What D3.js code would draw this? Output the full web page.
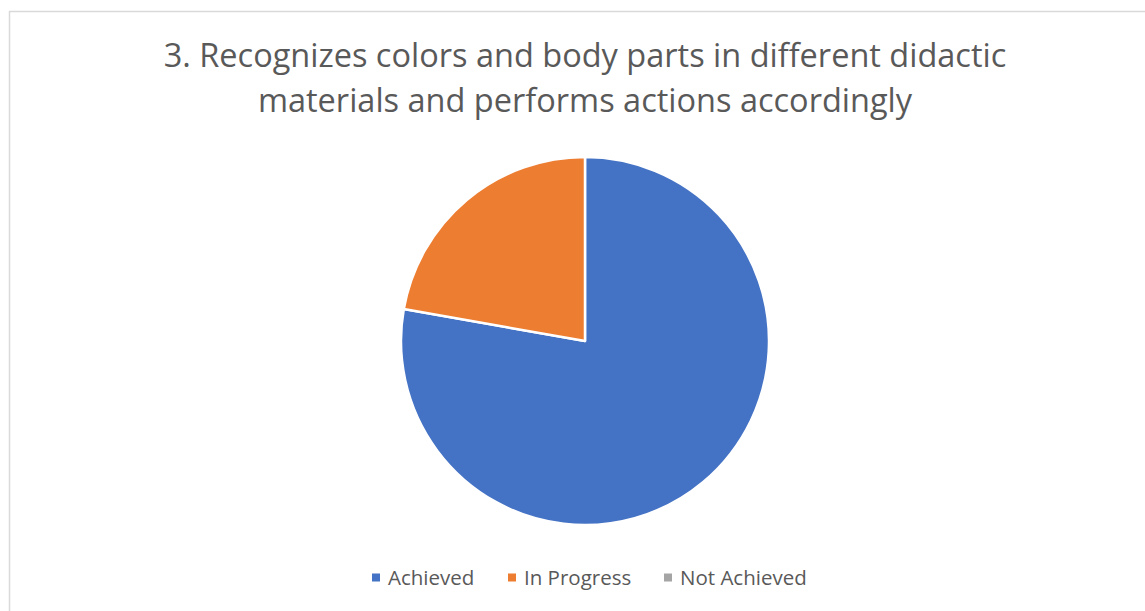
<!DOCTYPE html>
<html>
<head>
<meta charset="utf-8">
<script src="https://cdn.jsdelivr.net/npm/d3@7"></script>
<style>
  html, body { margin: 0; padding: 0; background: #fff; }
  svg { display: block; }
</style>
</head>
<body>
<svg id="chart" width="1145" height="611"></svg>
<script>
// Survey result for item 3
const titleLines = [
  "3. Recognizes colors and body parts in different didactic",
  "materials and performs actions accordingly"
];
const categories = ["Achieved", "In Progress", "Not Achieved"];
const counts = [7, 2, 0];
const colors = ["#4472C4", "#ED7D31", "#A5A5A5"];

const W = 1145, H = 611;
const svg = d3.select("#chart");
const font = "'Open Sans', 'Liberation Sans', sans-serif";

// chart area frame
svg.append("rect")
  .attr("x", 9.5).attr("y", 11.5)
  .attr("width", W + 20).attr("height", H + 20)
  .attr("fill", "#fff")
  .attr("stroke", "#d9d9d9").attr("stroke-width", 1.5);

// title
const title = svg.append("g");
titleLines.forEach((t, i) => {
  title.append("text")
    .attr("x", 585).attr("y", 67 + i * 45)
    .attr("text-anchor", "middle")
    .attr("font-family", font)
    .attr("font-size", 32.5)
    .attr("fill", "#595959")
    .text(t);
});

// pie
const cx = 585, cy = 341, r = 184;
const data = categories.map((c, i) => ({ name: c, value: counts[i], color: colors[i] }));
const pie = d3.pie().value(d => d.value).sort(null);
const arc = d3.arc().innerRadius(0).outerRadius(r);

svg.append("g")
  .attr("transform", `translate(${cx},${cy})`)
  .selectAll("path")
  .data(pie(data).filter(d => d.data.value > 0))
  .join("path")
  .attr("d", arc)
  .attr("fill", d => d.data.color)
  .attr("stroke", "#fff")
  .attr("stroke-width", 2.5)
  .attr("stroke-linejoin", "round");

// legend
const legendX = [372, 508, 664];
const legend = svg.append("g");
data.forEach((d, i) => {
  const g = legend.append("g").attr("transform", `translate(${legendX[i]},578)`);
  g.append("rect")
    .attr("x", 0).attr("y", -4.5)
    .attr("width", 8).attr("height", 8)
    .attr("fill", d.color);
  g.append("text")
    .attr("x", 16).attr("y", 0)
    .attr("dy", "0.35em")
    .attr("font-family", font)
    .attr("font-size", 20.5)
    .attr("fill", "#595959")
    .text(d.name);
});
</script>
</body>
</html>
